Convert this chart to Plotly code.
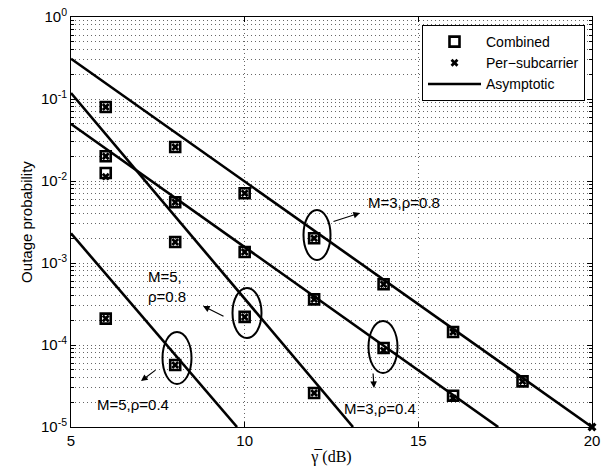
import plotly.graph_objects as go

# ---------------- data ----------------
snr_m3_r08 = [6, 8, 10, 12, 14, 16, 18]
comb_m3_r08 = [0.080, 0.026, 7.1e-3, 2.0e-3, 5.5e-4, 1.44e-4, 3.6e-5]
persub_m3_r08 = [0.080, 0.026, 7.1e-3, 2.0e-3, 5.5e-4, 1.44e-4, 3.6e-5]

snr_m3_r04 = [6, 8, 10, 12, 14, 16]
comb_m3_r04 = [0.020, 5.5e-3, 1.36e-3, 3.6e-4, 9.2e-5, 2.4e-5]
persub_m3_r04 = [0.020, 5.5e-3, 1.36e-3, 3.6e-4, 8.6e-5, 2.25e-5]

snr_m5_r08 = [6, 8, 10, 12]
comb_m5_r08 = [0.0125, 1.8e-3, 2.2e-4, 2.6e-5]
persub_m5_r08 = [0.0113, 1.8e-3, 2.2e-4, 2.6e-5]

snr_m5_r04 = [6, 8]
comb_m5_r04 = [2.1e-4, 5.7e-5]
persub_m5_r04 = [2.1e-4, 5.7e-5]

snr_corner = [20]
persub_corner = [1.0e-5]

asym_x_m3_r08 = [5, 20]
asym_y_m3_r08 = [0.31, 1.0e-5]
asym_x_m5_r08 = [5, 13.12]
asym_y_m5_r08 = [0.118, 1.0e-5]
asym_x_m3_r04 = [5, 17.3]
asym_y_m3_r04 = [0.0496, 1.0e-5]
asym_x_m5_r04 = [5, 9.78]
asym_y_m5_r04 = [2.3e-3, 1.0e-5]

x_ticks = [5, 10, 15, 20]
decades = [1e-5, 1e-4, 1e-3, 1e-2, 1e-1, 1]
decade_labels = ["10<sup>-5</sup>", "10<sup>-4</sup>", "10<sup>-3</sup>",
                 "10<sup>-2</sup>", "10<sup>-1</sup>", "10<sup>0</sup>"]

# ---------------- layout geometry (page pixels) ----------------
W, H = 608, 472
L, R, T, B = 71, 592, 17, 427
pw, ph = R - L, B - T


def px(xp):
    return (xp - L) / pw


def py(yp):
    return (B - yp) / ph


FONT = "Liberation Sans, Arial, Helvetica, sans-serif"
GRID = "#666"
GDASH = "1px,3px"
fig = go.Figure()

asym = [(asym_x_m3_r08, asym_y_m3_r08), (asym_x_m5_r08, asym_y_m5_r08),
        (asym_x_m3_r04, asym_y_m3_r04), (asym_x_m5_r04, asym_y_m5_r04)]
series = [(snr_m3_r08, comb_m3_r08, persub_m3_r08),
          (snr_m3_r04, comb_m3_r04, persub_m3_r04),
          (snr_m5_r08, comb_m5_r08, persub_m5_r08),
          (snr_m5_r04, comb_m5_r04, persub_m5_r04)]

# Combined squares
for i, (sx, c, p) in enumerate(series):
    fig.add_trace(go.Scatter(
        x=sx, y=c, mode="markers", name="Combined",
        legendgroup="comb", showlegend=(i == 0), legendrank=1,
        marker=dict(symbol="square-open", size=10, color="black",
                    line=dict(width=2.6, color="black"))))

# Asymptotic lines
for i, (ax_, ay_) in enumerate(asym):
    fig.add_trace(go.Scatter(
        x=ax_, y=ay_, mode="lines", name="Asymptotic",
        legendgroup="asym", showlegend=(i == 0), legendrank=3,
        line=dict(color="black", width=2.6)))

# Per-subcarrier crosses
for i, (sx, c, p) in enumerate(series):
    fig.add_trace(go.Scatter(
        x=sx, y=p, mode="markers", name="Per\u2212subcarrier",
        legendgroup="per", showlegend=(i == 0), legendrank=2,
        marker=dict(symbol="x", size=7, color="black",
                    line=dict(width=0))))
fig.add_trace(go.Scatter(
    x=snr_corner, y=persub_corner, mode="markers", showlegend=False,
    cliponaxis=False,
    marker=dict(symbol="x", size=8, color="black", line=dict(width=0))))

# ---------------- ellipses ----------------
ellipses = [(317, 235, 27, 50), (247, 313, 29, 50),
            (177, 358, 29, 52), (383, 347, 29, 52)]
for cx, cy, w, h in ellipses:
    fig.add_shape(type="circle", xref="paper", yref="paper",
                  x0=px(cx - w / 2), x1=px(cx + w / 2),
                  y0=py(cy + h / 2), y1=py(cy - h / 2),
                  line=dict(color="black", width=2))

# ---------------- arrows ----------------
arrows = [((332, 222), (360, 213)), ((373, 372), (374, 388)),
          ((225, 317), (203, 306)), ((157, 369), (141, 381))]
for (tx, ty), (hx, hy) in arrows:
    fig.add_annotation(xref="paper", yref="paper", x=px(hx), y=py(hy),
                       ax=tx - hx, ay=ty - hy, text="", showarrow=True,
                       arrowhead=2, arrowsize=1.1, arrowwidth=1.2,
                       arrowcolor="black")

# ---------------- texts ----------------
texts = [("M=3,\u03c1=0.8", 366, 203), ("M=3,\u03c1=0.4", 342, 408),
         ("M=5,<br>\u03c1=0.8", 146, 287), ("M=5,\u03c1=0.4", 95, 404)]
for txt, lx, cy in texts:
    fig.add_annotation(xref="paper", yref="paper", x=px(lx), y=py(cy),
                       xanchor="left", yanchor="middle", text=txt,
                       showarrow=False, align="left",
                       font=dict(family=FONT, size=15, color="black"))

# ---------------- axes ----------------
minor_vals = [m * d for d in decades[:-1] for m in range(2, 10)]

fig.update_xaxes(
    range=[5, 20], tickvals=x_ticks, ticktext=[str(v) for v in x_ticks],
    ticks="inside", ticklen=5, tickcolor="black",
    showline=True, linecolor="black", linewidth=1, mirror="ticks",
    showgrid=True, gridcolor=GRID, griddash=GDASH, gridwidth=1,
    zeroline=False, automargin=False, ticklabeloverflow="allow",
    tickfont=dict(family=FONT, size=15, color="black"),
    title=dict(text="\u03b3\u0305 (dB)",
               font=dict(family="Liberation Serif, Times New Roman, serif",
                         size=16, color="black"),
               standoff=2))

fig.update_yaxes(
    type="log", range=[-5, 0], tickvals=decades, ticktext=decade_labels,
    ticks="inside", ticklen=5, tickcolor="black",
    showline=True, linecolor="black", linewidth=1, mirror="ticks",
    showgrid=True, gridcolor=GRID, griddash=GDASH, gridwidth=1,
    automargin=False, ticklabeloverflow="allow",
    minor=dict(tickmode="array", tickvals=minor_vals, ticks="inside",
               ticklen=3, tickcolor="black", showgrid=True,
               gridcolor=GRID, griddash=GDASH, gridwidth=1),
    tickfont=dict(family=FONT, size=15, color="black"),
    title=dict(text="Outage probability",
               font=dict(family=FONT, size=15, color="black"),
               standoff=4))

fig.update_layout(
    width=W, height=H,
    margin=dict(l=L, r=W - R, t=T, b=H - B, pad=0),
    paper_bgcolor="white", plot_bgcolor="white",
    showlegend=True,
    legend=dict(x=px(585), y=py(25), xanchor="right", yanchor="top",
                bgcolor="white", bordercolor="black", borderwidth=1,
                font=dict(family=FONT, size=14, color="black"),
                tracegroupgap=0, traceorder="normal",
                itemwidth=53),
)

fig.write_html("out.html",
               config={"displayModeBar": False},
               post_script="document.body.style.margin='0';"
                           "document.body.style.overflow='hidden';")
